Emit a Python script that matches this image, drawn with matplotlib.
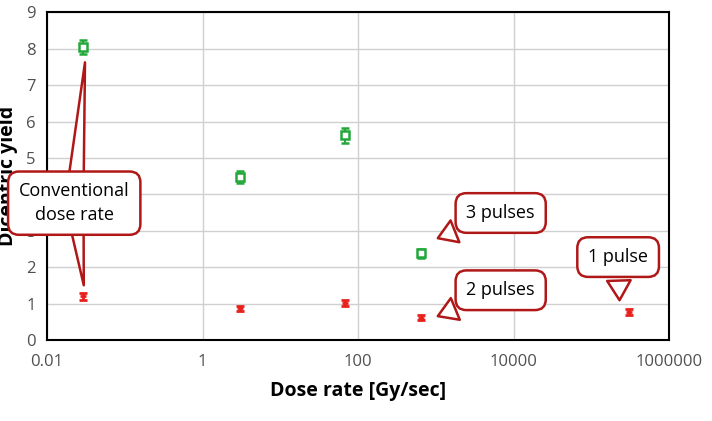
import matplotlib.pyplot as plt
from matplotlib.ticker import FixedLocator

# green series (open squares) and red series
green_x = [0.029, 3.0, 68, 650]
green_y = [8.05, 4.47, 5.62, 2.38]
green_err = [0.2, 0.17, 0.2, 0.12]

red_x = [0.029, 3.0, 68, 650, 300000]
red_y = [1.2, 0.87, 1.03, 0.62, 0.78]
red_err = [0.1, 0.08, 0.08, 0.07, 0.08]

x_ticks = [0.01, 1, 100, 10000, 1000000]
x_labels = ["0.01", "1", "100", "10000", "1000000"]

plt.rcParams['font.family'] = 'Open Sans'
fig = plt.figure(figsize=(7.12, 4.21), dpi=100)
ax = fig.add_axes([0.066, 0.192, 0.874, 0.779])
ax.set_xscale('log')
ax.set_xlim(0.01, 1000000)
ax.set_ylim(0, 9)
ax.xaxis.set_major_locator(FixedLocator(x_ticks))
ax.xaxis.set_minor_locator(FixedLocator([]))
ax.set_xticklabels(x_labels)
ax.set_yticks(range(10))
ax.tick_params(length=0, labelsize=12, colors='#505050')
ax.tick_params(axis='x', pad=10)
ax.tick_params(axis='y', pad=8)
ax.grid(color='#d0d0d0', linewidth=1)
ax.set_axisbelow(True)
for s in ax.spines.values():
    s.set_color('black')
    s.set_linewidth(1.5)

ax.errorbar(green_x, green_y, yerr=green_err, fmt='s', mfc='white', mec='#22a83a',
            ecolor='#22a83a', ms=6, mew=1.8, capsize=3, elinewidth=1.5, zorder=3)
ax.errorbar(red_x, red_y, yerr=red_err, fmt='_', color='#e8201c',
            ms=5, mew=2, capsize=3, capthick=2, elinewidth=2, zorder=3)

ax.set_xlabel("Dose rate [Gy/sec]", fontsize=14, fontweight='bold', labelpad=8)
ax.set_ylabel("Dicentric yield", fontsize=14, fontweight='bold', labelpad=6)

box = dict(boxstyle="round,pad=0.6,rounding_size=0.6", fc='white', ec='#b01818', lw=1.8)
wedge = dict(arrowstyle="wedge,tail_width=1.3,shrink_factor=0.5", fc='white', ec='#b01818', lw=1.8)

# conventional dose rate callout with two pointers
for pt in [(0.031, 7.7), (0.03, 1.43)]:
    ax.annotate("", xy=pt, xytext=(0.0224, 3.76), arrowprops=wedge, zorder=4)
ax.annotate("Conventional\ndose rate", xy=(0.03, 1.43), xytext=(0.0224, 3.76),
            ha='center', va='center', fontsize=13, bbox=box, zorder=5, linespacing=1.4)
ax.annotate("3 pulses", xy=(980, 2.77), xytext=(6800, 3.49), ha='center', va='center',
            fontsize=13, bbox=box, arrowprops=wedge, zorder=5)
ax.annotate("2 pulses", xy=(980, 0.63), xytext=(6800, 1.37), ha='center', va='center',
            fontsize=13, bbox=box, arrowprops=wedge, zorder=5)
ax.annotate("1 pulse", xy=(230000, 1.02), xytext=(220000, 2.28), ha='center', va='center',
            fontsize=13, bbox=box, arrowprops=wedge, zorder=5)

fig.savefig("out.png", dpi=100)
